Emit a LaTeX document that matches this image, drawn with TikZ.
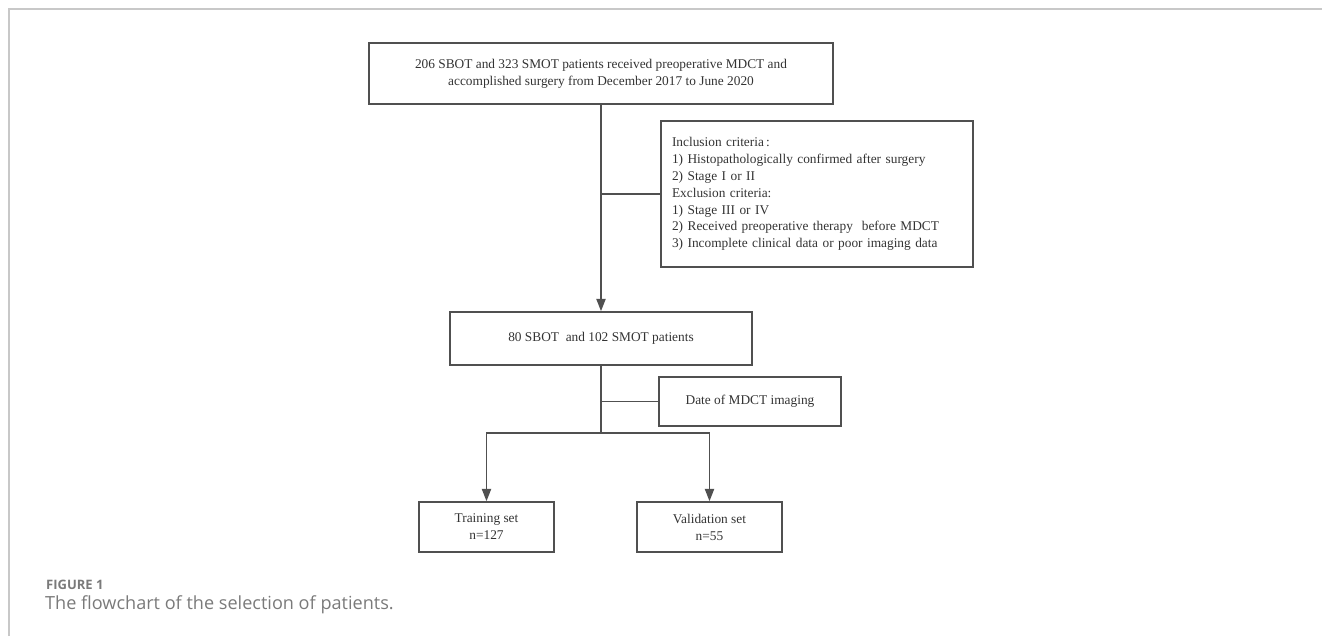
\documentclass[tikz,border=0pt]{standalone}
\usepackage{fontspec}
\setmainfont{Liberation Serif}
\newfontfamily\capfont{Open Sans}
\usetikzlibrary{arrows.meta,positioning}

\definecolor{linegray}{HTML}{505050}
\definecolor{textgray}{HTML}{333333}
\definecolor{framegray}{HTML}{C8C8C8}
\definecolor{capgray}{HTML}{7A7A7A}

\tikzset{
  flowbox/.style={draw=linegray, line width=0.9pt, inner sep=0pt, text=textgray,
    font=\fontsize{7.6}{9.6}\selectfont, align=center},
  link/.style={draw=linegray, line width=0.9pt},
  arrowlink/.style={link, -{Triangle[length=7pt,width=5.2pt]}}
}

\begin{document}
\begin{tikzpicture}[x=0.02cm,y=-0.02cm]
\useasboundingbox (0,0) rectangle (1322,636);

%frame
\draw[framegray, line width=0.6pt] (9,636) -- (9,9) -- (1322,9);

%boxes
\node[flowbox, minimum width=9.28cm, minimum height=1.22cm] (cohort) at (601,73.5)
  {206 SBOT and 323 SMOT patients received preoperative MDCT and\\
   accomplished surgery from December 2017 to June 2020};

\node[flowbox, minimum width=6.24cm, minimum height=2.92cm, text width=5.8cm, align=left] (criteria) at (817,194)
  {Inclusion criteria\,:\\
   1) Histopathologically confirmed after surgery\\
   2) Stage I or II\\
   Exclusion criteria:\\
   1) Stage III or IV\\
   2) Received preoperative therapy\ \ before MDCT\\
   3) Incomplete clinical data or poor imaging data};

\node[flowbox, minimum width=6.04cm, minimum height=1.06cm] (included) at (601,338.5)
  {80 SBOT\ \ and 102 SMOT patients};

\node[flowbox, minimum width=3.64cm, minimum height=0.98cm] (split) at (750,401.5)
  {Date of MDCT imaging};

\node[flowbox, minimum width=2.7cm, minimum height=1.0cm] (training) at (486.5,527)
  {Training set\\n=127};

\node[flowbox, minimum width=2.9cm, minimum height=1.0cm] (validation) at (709.5,527)
  {Validation set\\n=55};

%connectors
\draw[arrowlink] (cohort.south) -- (included.north);
\draw[link] (cohort.south |- criteria.west) -- (criteria.west);

\coordinate (fork) at (601,433);
\draw[link] (included.south) -- (fork);
\draw[link] (included.south |- split.west) -- (split.west);
\draw[arrowlink] (fork) -| (training.north);
\draw[arrowlink] (fork) -| (validation.north);

%caption
\node[anchor=base west, text=capgray, font=\capfont\bfseries\fontsize{7.4}{9}\selectfont] (figlabel) at (40,589) {FIGURE 1};
\node[anchor=base west, text=capgray, font=\capfont\fontsize{10.3}{12}\selectfont] (figcaption) at (39,609) {The flowchart of the selection of patients.};
\end{tikzpicture}
\end{document}
